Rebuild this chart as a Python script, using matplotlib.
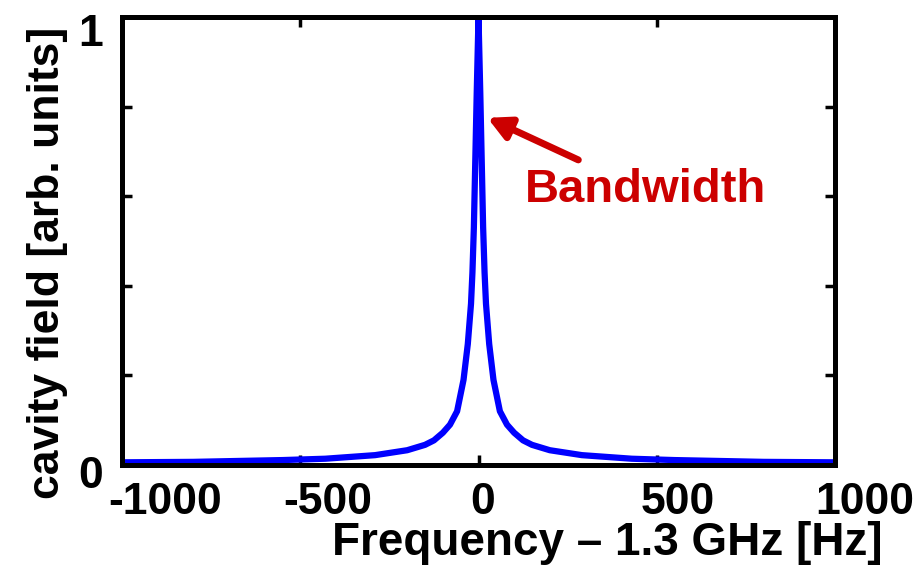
import matplotlib
matplotlib.use("Agg")
import matplotlib.pyplot as plt
from matplotlib.ticker import FixedLocator, FixedFormatter
from matplotlib.transforms import ScaledTranslation

plt.rcParams['font.family'] = ['Liberation Sans', 'DejaVu Sans']
plt.rcParams['font.weight'] = 'bold'

# Frequency offset [Hz] and cavity field [arb. units]
freq = [-1000, -800, -550, -430, -290, -200, -150, -125, -100, -80, -60, -42, -30,
        -21, -17, -13, -5, 0, 5, 13, 17, 21, 30, 42, 60, 80, 100, 125, 150, 200,
        290, 430, 550, 800, 1000]
field = [0.006, 0.007, 0.011, 0.014, 0.022, 0.033, 0.045, 0.055, 0.072, 0.09, 0.12,
         0.19, 0.27, 0.36, 0.43, 0.53, 0.83, 1.0, 0.83, 0.53, 0.43, 0.36, 0.27, 0.19,
         0.12, 0.09, 0.072, 0.055, 0.045, 0.033, 0.022, 0.014, 0.011, 0.007, 0.006]

xticks = [-1000, -500, 0, 500, 1000]
xticklabels = ['-1000', '-500', '0', '500', '1000']
yticks = [0, 0.2, 0.4, 0.6, 0.8, 1.0]
yticklabels = ['0', '', '', '', '', '1']

# annotation: arrow tip / tail (data coords) and label position
arrow_tip = (25, 0.775)
arrow_tail = (280, 0.681)
label_pos = (468, 0.614)

fig = plt.figure(figsize=(9.22, 5.66), dpi=100)
ax = fig.add_axes([122/922, 1-465/566, 713/922, 448/566])

ax.plot(freq, field, color='#0000FF', lw=4.5, solid_joinstyle='round', zorder=3)
ax.set_xlim(-1000, 1000)
ax.set_ylim(0, 1)

ax.xaxis.set_major_locator(FixedLocator(xticks))
ax.xaxis.set_major_formatter(FixedFormatter(xticklabels))
ax.yaxis.set_major_locator(FixedLocator(yticks))
ax.yaxis.set_major_formatter(FixedFormatter(yticklabels))
ax.tick_params(direction='in', length=7, width=2.5, top=True, right=True,
               labelsize=32, colors='black')
ax.tick_params(axis='x', pad=12)
ax.tick_params(axis='y', pad=14)
for s in ax.spines.values():
    s.set_linewidth(3.6)
    s.set_zorder(4)

# tick label placement as in the reference
x_dx = [-14, -17, -8, -16, -20]
for lab, dx in zip(ax.get_xticklabels(), x_dx):
    lab.set_fontweight('bold')
    lab.set_ha('left')
    lab.set_transform(lab.get_transform() + ScaledTranslation(dx/100, 0, fig.dpi_scale_trans))
y_dy = [-7, 0, 0, 0, 0, -13]
for lab, dy in zip(ax.get_yticklabels(), y_dy):
    lab.set_fontweight('bold')
    lab.set_transform(lab.get_transform() + ScaledTranslation(0, dy/100, fig.dpi_scale_trans))

ax.set_xlabel('Frequency – 1.3 GHz [Hz]', fontsize=33, fontweight='bold', va='top')
ax.xaxis.set_label_coords(0.68, -0.125)
ax.set_ylabel('cavity field [arb. units]', fontsize=32, fontweight='bold',
              va='center', ha='center')
ax.yaxis.set_label_coords(-0.104, 0.451)

ax.annotate('', xy=arrow_tip, xytext=arrow_tail,
            arrowprops=dict(arrowstyle='-|>,head_length=1.35,head_width=0.7',
                            color='#CC0000', lw=5, shrinkA=0, shrinkB=0))
ax.text(label_pos[0], label_pos[1], 'Bandwidth', color='#CC0000', fontsize=34,
        fontweight='bold', ha='center', va='center')

fig.savefig('out.png', dpi=100)
